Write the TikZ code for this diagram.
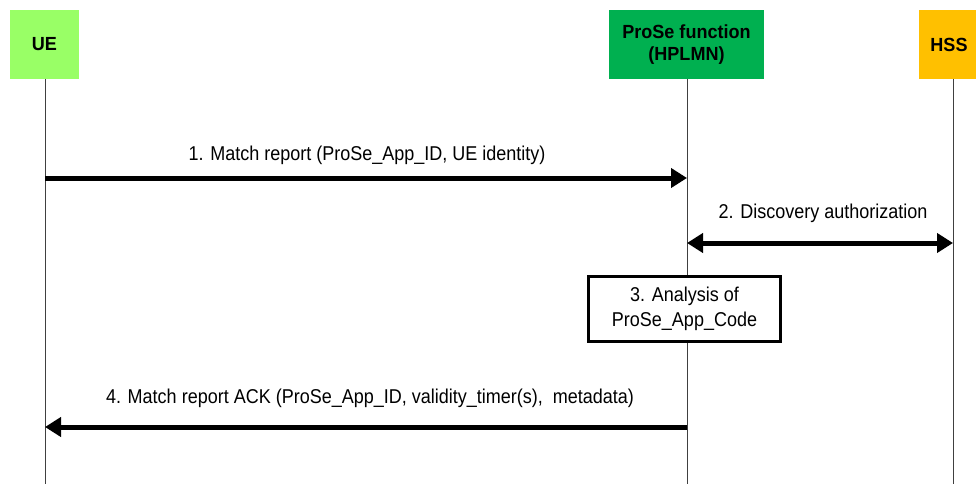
\documentclass[tikz,border=0pt]{standalone}
\usepackage{fontspec}
\setmainfont{Liberation Sans}
\newfontfamily\narrowfont[FakeStretch=0.9]{Liberation Sans}
\newfontfamily\headfont[FakeStretch=0.95]{Liberation Sans}
\usetikzlibrary{arrows.meta}
\begin{document}
\begin{tikzpicture}[x=1pt,y=-1pt,
  header/.style={minimum height=69pt,inner sep=0pt,align=center,font=\headfont\fontsize{19}{22}\selectfont\bfseries},
  life/.style={line width=0.9pt,draw=black!75},
  msg/.style={line width=5pt,-{Triangle[length=16pt,width=19pt]}},
  msgboth/.style={line width=5pt,{Triangle[length=16pt,width=19pt]}-{Triangle[length=16pt,width=19pt]}},
  lbl/.style={font=\narrowfont\fontsize{20}{23}\selectfont,inner sep=0pt},
  proc/.style={draw,line width=3pt,align=center,minimum width=192pt,minimum height=65pt,inner sep=2pt,font=\narrowfont\fontsize{20}{25}\selectfont}]
\useasboundingbox (0,0) rectangle (976,484);
\node[header,fill={rgb,255:red,153;green,255;blue,102},minimum width=69pt] (ue) at (44.5,44.5) {UE};
\node[header,fill={rgb,255:red,0;green,176;blue,80},minimum width=155pt] (pf) at (686.5,44.5) {ProSe function\\(HPLMN)};
\node[header,fill={rgb,255:red,255;green,192;blue,0},minimum width=60pt] (hss) at (949,44.5) {HSS};
\coordinate (ueb) at (45,484);
\coordinate (pfb) at (687,484);
\coordinate (hssb) at (953,484);
\draw[life] (45,79) -- (ueb);
\draw[life] (687,79) -- (pfb);
\draw[life] (953,79) -- (hssb);
% message 1
\coordinate (m1s) at (45,178);
\coordinate (m1e) at (687,178);
\draw[msg] (m1s) -- (m1e);
\node[lbl] (l1) at (367,155) {1. Match report (ProSe\_App\_ID, UE identity)};
% message 2
\coordinate (m2s) at (687,243);
\coordinate (m2e) at (953,243);
\draw[msgboth] (m2s) -- (m2e);
\node[lbl] (l2) at (823,213) {2. Discovery authorization};
% step 3
\node[proc,fill=white] (p3) at (684.5,309) {3. Analysis of\\ProSe\_App\_Code};
% message 4
\coordinate (m4s) at (687,427);
\coordinate (m4e) at (45,427);
\draw[msg] (m4s) -- (m4e);
\node[lbl] (l4) at (370,398) {4. Match report ACK (ProSe\_App\_ID, validity\_timer(s),\ \ metadata)};
\end{tikzpicture}
\end{document}
